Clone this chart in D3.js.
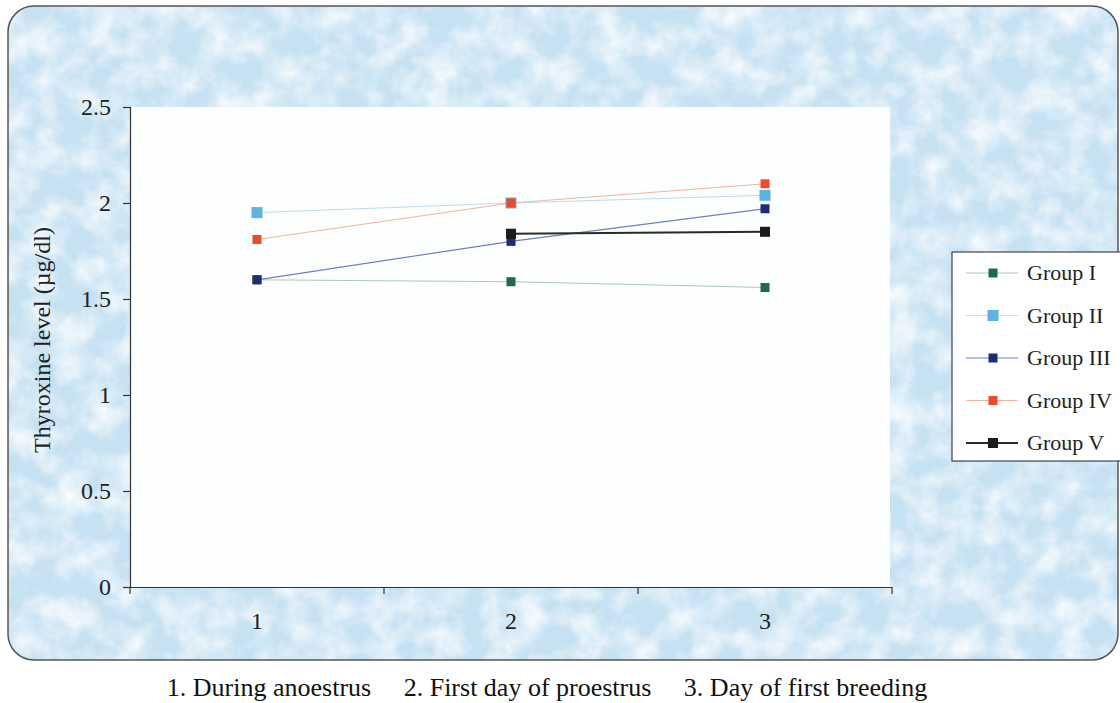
<!DOCTYPE html>
<html>
<head>
<meta charset="utf-8">
<script src="https://cdn.jsdelivr.net/npm/d3@7"></script>
<style>
  body { margin: 0; background: #fff; }
  svg { display: block; }
  svg text { font-family: "Liberation Serif", "Times New Roman", Times, serif; }
</style>
</head>
<body>
<svg id="chart" width="1120" height="703"></svg>
<script>
// chart data
const categories = ['1', '2', '3'];
const groupNames = ['Group I', 'Group II', 'Group III', 'Group IV', 'Group V'];
const groupI   = [1.60, 1.59, 1.56];
const groupII  = [1.95, 2.00, 2.04];
const groupIII = [1.60, 1.80, 1.97];
const groupIV  = [1.81, 2.00, 2.10];
const groupV   = [null, 1.84, 1.85];
const yTicks = [0, 0.5, 1, 1.5, 2, 2.5];
const caption = '1. During anoestrus     2. First day of proestrus     3. Day of first breeding';
const yTitle = 'Thyroxine level (µg/dl)';

const series = [
  {name: groupNames[0], values: groupI,   line: '#a9c9b8', mark: '#1f6a48', lw: 1,   ms: 9},
  {name: groupNames[1], values: groupII,  line: '#b9dcef', mark: '#5cb3e0', lw: 1,   ms: 11},
  {name: groupNames[2], values: groupIII, line: '#6f7fbf', mark: '#1d2d78', lw: 1.2, ms: 9},
  {name: groupNames[3], values: groupIV,  line: '#f0b49c', mark: '#ec4a2c', lw: 1,   ms: 9},
  {name: groupNames[4], values: groupV,   line: '#2a2a2a', mark: '#1c1c1c', lw: 2,   ms: 10}
];

const svg = d3.select('#chart');

// mottled blue background, like the scanned original
const defs = svg.append('defs');
const f = defs.append('filter').attr('id', 'mottle').attr('x', 0).attr('y', 0).attr('width', 1).attr('height', 1);
f.append('feTurbulence').attr('type', 'fractalNoise').attr('baseFrequency', 0.035).attr('numOctaves', 4).attr('seed', 11).attr('result', 'n');
f.append('feColorMatrix').attr('in', 'n').attr('type', 'matrix')
  .attr('values', '0 0 0 0 1  0 0 0 0 1  0 0 0 0 1  1.6 0 0 0 -0.55')
  .attr('result', 'c');
f.append('feComposite').attr('in', 'c').attr('in2', 'SourceGraphic').attr('operator', 'in');

const frame = {x: 8, y: 6, w: 1110, h: 654, r: 26};
svg.append('rect').attr('x', frame.x).attr('y', frame.y).attr('width', frame.w).attr('height', frame.h)
  .attr('rx', frame.r).attr('fill', '#c6e1f2');
svg.append('rect').attr('x', frame.x).attr('y', frame.y).attr('width', frame.w).attr('height', frame.h)
  .attr('rx', frame.r).attr('fill', '#fff').attr('filter', 'url(#mottle)');
svg.append('rect').attr('x', frame.x).attr('y', frame.y).attr('width', frame.w).attr('height', frame.h)
  .attr('rx', frame.r).attr('fill', 'none').attr('stroke', '#555').attr('stroke-width', 1.5);

const margin = {left: 130, top: 107, right: 892, bottom: 587};
const x = d3.scaleBand().domain(categories).range([margin.left, margin.right]);
const y = d3.scaleLinear().domain([0, 2.5]).range([margin.bottom, margin.top]);

// plot area
svg.append('rect').attr('x', margin.left).attr('y', margin.top)
  .attr('width', 760).attr('height', margin.bottom - margin.top).attr('fill', '#fdfefe');

// y axis
const yAxis = svg.append('g').attr('transform', `translate(${margin.left},0)`)
  .call(d3.axisLeft(y).tickValues(yTicks).tickFormat(d3.format('')).tickSize(7).tickPadding(12));
yAxis.attr('font-family', null);
yAxis.selectAll('text').attr('font-size', 24).attr('fill', '#222');
yAxis.selectAll('line, path').attr('stroke', '#333').attr('stroke-width', 1.2);

// x axis: ticks between categories
const xAxis = svg.append('g').attr('transform', `translate(0,${margin.bottom})`)
  .call(d3.axisBottom(x).tickSize(0).tickPadding(25));
xAxis.attr('font-family', null);
xAxis.select('.domain').attr('stroke', '#333').attr('stroke-width', 1.2);
xAxis.selectAll('text').attr('font-size', 24).attr('fill', '#222');
const edges = categories.map(c => x(c)).concat([x(categories[categories.length - 1]) + x.bandwidth()]);
xAxis.selectAll('.edge').data(edges).join('line').attr('class', 'edge')
  .attr('x1', d => d).attr('x2', d => d).attr('y1', 0).attr('y2', 7)
  .attr('stroke', '#333').attr('stroke-width', 1.2);

// y title
svg.append('text').attr('transform', `translate(50,${(margin.top + margin.bottom) / 2 - 7}) rotate(-90)`)
  .attr('text-anchor', 'middle').attr('font-size', 24).attr('fill', '#222').text(yTitle);

// lines + markers
const cx = i => x(categories[i]) + x.bandwidth() / 2;
const line = d3.line().defined(d => d.v != null).x(d => cx(d.i)).y(d => y(d.v));
series.forEach(s => {
  const pts = s.values.map((v, i) => ({v, i}));
  svg.append('path').datum(pts).attr('d', line).attr('fill', 'none')
    .attr('stroke', s.line).attr('stroke-width', s.lw);
});
series.forEach(s => {
  svg.selectAll(null).data(s.values.map((v, i) => ({v, i})).filter(d => d.v != null)).join('rect')
    .attr('x', d => cx(d.i) - s.ms / 2).attr('y', d => y(d.v) - s.ms / 2)
    .attr('width', s.ms).attr('height', s.ms).attr('fill', s.mark);
});

// legend
const lg = svg.append('g').attr('transform', 'translate(952,252)');
lg.append('rect').attr('width', 170).attr('height', 209).attr('fill', '#fff')
  .attr('stroke', '#444').attr('stroke-width', 1.2);
series.forEach((s, k) => {
  const yy = 21 + k * 42.5;
  lg.append('line').attr('x1', 14).attr('x2', 66).attr('y1', yy).attr('y2', yy)
    .attr('stroke', s.line).attr('stroke-width', s.lw);
  lg.append('rect').attr('x', 41 - s.ms / 2).attr('y', yy - s.ms / 2)
    .attr('width', s.ms).attr('height', s.ms).attr('fill', s.mark);
  lg.append('text').attr('x', 75).attr('y', yy + 7).attr('font-size', 22).attr('fill', '#222').text(s.name);
});

// caption under the frame
svg.append('text').attr('x', 547).attr('y', 696).attr('text-anchor', 'middle')
  .attr('font-size', 26).attr('fill', '#111').attr('xml:space', 'preserve')
  .style('white-space', 'pre').text(caption);
</script>
</body>
</html>
